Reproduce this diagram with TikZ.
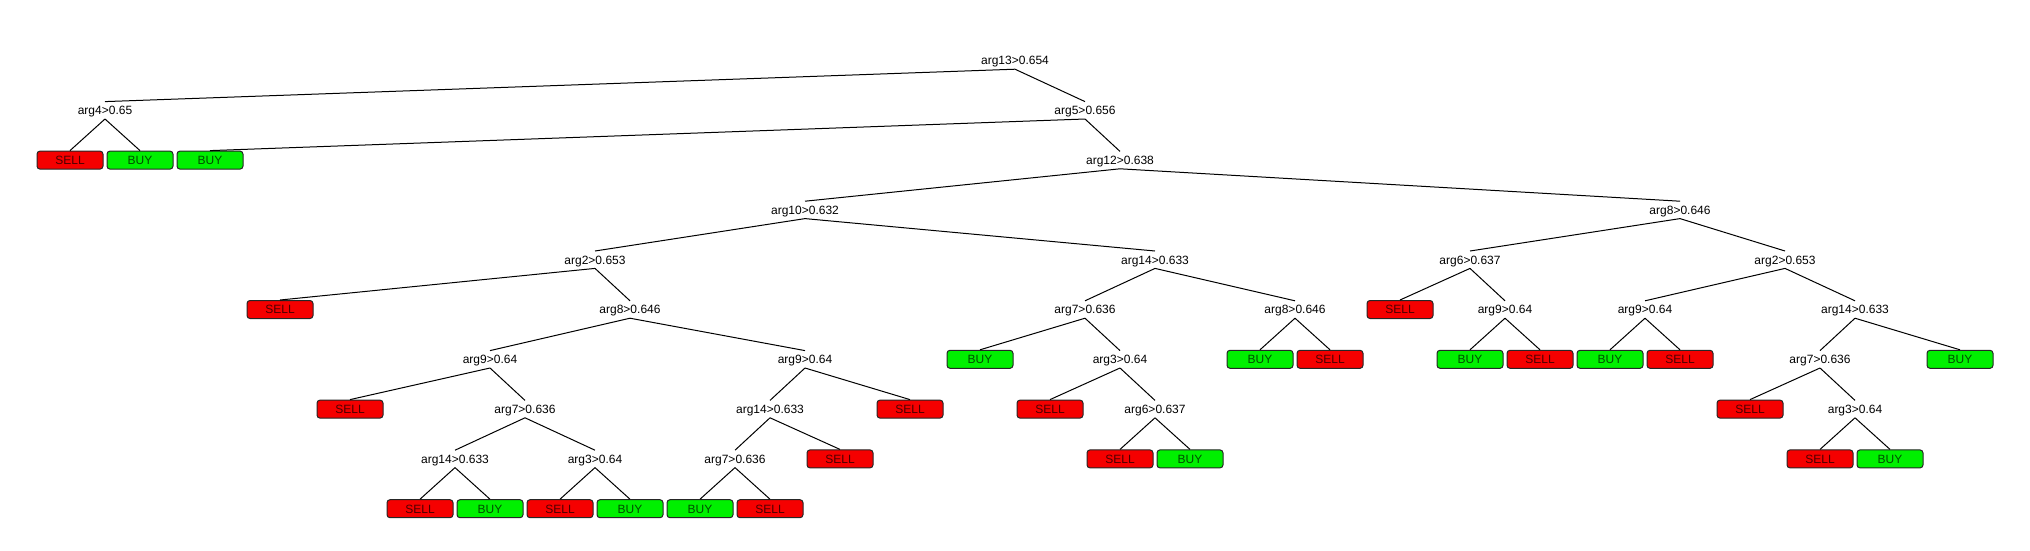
\documentclass[tikz,border=0pt]{standalone}
\usepackage{fontspec}
\setmainfont{Liberation Sans}
\definecolor{sellred}{RGB}{245,0,0}
\definecolor{buygreen}{RGB}{0,240,0}
\begin{document}
\begin{tikzpicture}[x=1pt,y=-1pt,
  split/.style={inner sep=0pt,minimum height=17pt,text height=8.6pt,text depth=0pt,font=\fontsize{12}{12}\selectfont},
  leafbox/.style={draw=black!85,line width=1pt,rounded corners=3pt,minimum width=66pt,minimum height=18pt,inner sep=0pt,text height=8.6pt,text depth=0pt,font=\fontsize{12}{12}\selectfont},
  sell/.style={leafbox,fill=sellred,text=black!70!red},
  buy/.style={leafbox,fill=buygreen,text=black!70!green},
  edge/.style={draw=black,line width=1pt}]
\useasboundingbox (0,0) rectangle (2030,550);
\def\La{60.5}\def\Lb{110.3}\def\Lc{160.1}\def\Ld{209.9}\def\Le{259.7}
\def\Lf{309.5}\def\Lg{359.3}\def\Lh{409.1}\def\Li{458.9}\def\Lj{508.7}
% internal nodes
\node[split] (n13) at (1015,\La) {arg13>0.654};
\node[split] (n4)  at (105,\Lb) {arg4>0.65};
\node[split] (n5)  at (1085,\Lb) {arg5>0.656};
\node[split] (n12) at (1120,\Lc) {arg12>0.638};
\node[split] (n10) at (805,\Ld) {arg10>0.632};
\node[split] (n8r) at (1680,\Ld) {arg8>0.646};
\node[split] (a2a) at (595,\Le) {arg2>0.653};
\node[split] (a14a) at (1155,\Le) {arg14>0.633};
\node[split] (a6a) at (1470,\Le) {arg6>0.637};
\node[split] (a2b) at (1785,\Le) {arg2>0.653};
\node[split] (a8a) at (630,\Lf) {arg8>0.646};
\node[split] (a7b) at (1085,\Lf) {arg7>0.636};
\node[split] (a8b) at (1295,\Lf) {arg8>0.646};
\node[split] (a9c) at (1505,\Lf) {arg9>0.64};
\node[split] (a9d) at (1645,\Lf) {arg9>0.64};
\node[split] (a14d) at (1855,\Lf) {arg14>0.633};
\node[split] (a9a) at (490,\Lg) {arg9>0.64};
\node[split] (a9b) at (805,\Lg) {arg9>0.64};
\node[split] (a3b) at (1120,\Lg) {arg3>0.64};
\node[split] (a7d) at (1820,\Lg) {arg7>0.636};
\node[split] (a7a) at (525,\Lh) {arg7>0.636};
\node[split] (a14b) at (770,\Lh) {arg14>0.633};
\node[split] (a6b) at (1155,\Lh) {arg6>0.637};
\node[split] (a3d) at (1855,\Lh) {arg3>0.64};
\node[split] (a14c) at (455,\Li) {arg14>0.633};
\node[split] (a3a) at (595,\Li) {arg3>0.64};
\node[split] (a7c) at (735,\Li) {arg7>0.636};
% leaves
\node[sell] (l1) at (70,\Lc) {SELL};
\node[buy]  (l2) at (140,\Lc) {BUY};
\node[buy]  (l3) at (210,\Lc) {BUY};
\node[sell] (l4) at (280,\Lf) {SELL};
\node[sell] (l5) at (350,\Lh) {SELL};
\node[sell] (l6) at (420,\Lj) {SELL};
\node[buy]  (l7) at (490,\Lj) {BUY};
\node[sell] (l8) at (560,\Lj) {SELL};
\node[buy]  (l9) at (630,\Lj) {BUY};
\node[buy]  (l10) at (700,\Lj) {BUY};
\node[sell] (l11) at (770,\Lj) {SELL};
\node[sell] (l12) at (840,\Li) {SELL};
\node[sell] (l13) at (910,\Lh) {SELL};
\node[buy]  (l14) at (980,\Lg) {BUY};
\node[sell] (l15) at (1050,\Lh) {SELL};
\node[sell] (l16) at (1120,\Li) {SELL};
\node[buy]  (l17) at (1190,\Li) {BUY};
\node[buy]  (l18) at (1260,\Lg) {BUY};
\node[sell] (l19) at (1330,\Lg) {SELL};
\node[sell] (l20) at (1400,\Lf) {SELL};
\node[buy]  (l21) at (1470,\Lg) {BUY};
\node[sell] (l22) at (1540,\Lg) {SELL};
\node[buy]  (l23) at (1610,\Lg) {BUY};
\node[sell] (l24) at (1680,\Lg) {SELL};
\node[sell] (l25) at (1750,\Lh) {SELL};
\node[sell] (l26) at (1820,\Li) {SELL};
\node[buy]  (l27) at (1890,\Li) {BUY};
\node[buy]  (l28) at (1960,\Lg) {BUY};
% edges
\foreach \p/\c in {n13/n4,n13/n5,n4/l1,n4/l2,n5/l3,n5/n12,n12/n10,n12/n8r,
  n10/a2a,n10/a14a,n8r/a6a,n8r/a2b,a2a/l4,a2a/a8a,a8a/a9a,a8a/a9b,
  a9a/l5,a9a/a7a,a7a/a14c,a7a/a3a,a14c/l6,a14c/l7,a3a/l8,a3a/l9,
  a9b/a14b,a9b/l13,a14b/a7c,a14b/l12,a7c/l10,a7c/l11,
  a14a/a7b,a14a/a8b,a7b/l14,a7b/a3b,a3b/l15,a3b/a6b,a6b/l16,a6b/l17,
  a8b/l18,a8b/l19,a6a/l20,a6a/a9c,a9c/l21,a9c/l22,
  a2b/a9d,a2b/a14d,a9d/l23,a9d/l24,a14d/a7d,a14d/l28,
  a7d/l25,a7d/a3d,a3d/l26,a3d/l27}
  \draw[edge] (\p.south) -- (\c.north);
\end{tikzpicture}
\end{document}
